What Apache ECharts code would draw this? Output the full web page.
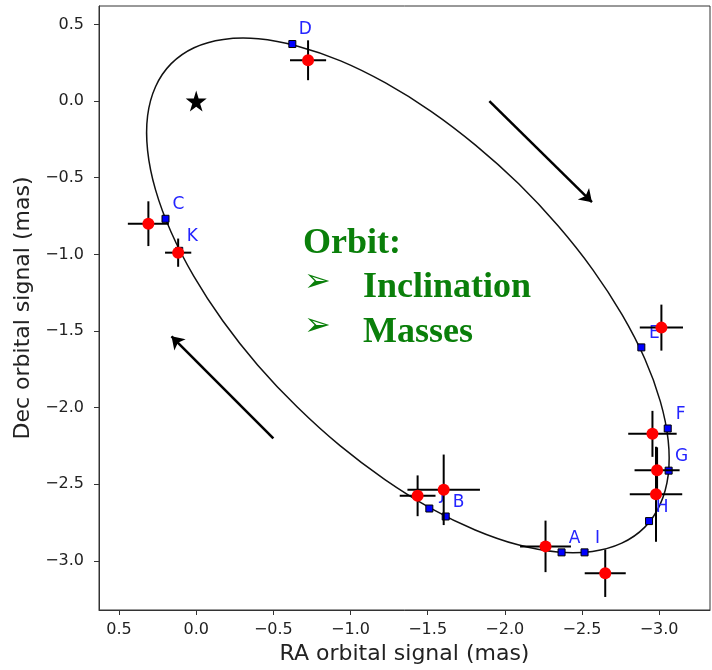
<!DOCTYPE html>
<html>
<head>
<meta charset="utf-8">
<script src="https://cdn.jsdelivr.net/npm/echarts@6/dist/echarts.min.js"></script>
<style>
  html, body { margin: 0; padding: 0; background: #fff; }
  #chart { width: 712px; height: 670px; }
</style>
</head>
<body>
<div id="chart"></div>
<script>
// epoch labels
var labels = ['A', 'B', 'C', 'D', 'E', 'F', 'G', 'H', 'I', 'J', 'K'];
// model positions on the orbit (blue squares)
var modelRA = [-2.368, -1.617, 0.199, -0.623, -2.885, -3.056, -3.062, -2.935, -2.517, -1.511, 0.110];
var modelDec = [-2.944, -2.710, -0.768, 0.372, -1.607, -2.136, -2.411, -2.740, -2.944, -2.658, -0.977];
// measured positions (red points) and their errors
var obsRA = [-2.264, -1.604, 0.310, -0.725, -3.015, -2.957, -2.987, -2.980, -2.651, -1.435, 0.117];
var obsDec = [-2.905, -2.536, -0.800, 0.266, -1.478, -2.171, -2.409, -2.565, -3.080, -2.575, -0.989];
var errRA = [0.165, 0.235, 0.133, 0.117, 0.140, 0.157, 0.146, 0.170, 0.133, 0.116, 0.085];
var errDec = [0.168, 0.230, 0.146, 0.130, 0.150, 0.150, 0.150, 0.310, 0.155, 0.133, 0.092];
var orbitRA = [-2.906, -2.758, -2.568, -2.342, -2.086, -1.808, -1.518, -1.223, -0.932, -0.655,
  -0.399, -0.173, 0.016, 0.163, 0.264, 0.315, 0.315, 0.263, 0.162, 0.014, -0.176, -0.403,
  -0.658, -0.936, -1.227, -1.522, -1.812, -2.090, -2.345, -2.571, -2.760, -2.908, -3.008,
  -3.059, -3.059, -3.007];
var orbitDec = [-2.781, -2.884, -2.938, -2.942, -2.895, -2.798, -2.655, -2.469, -2.248, -1.996,
  -1.723, -1.435, -1.142, -0.854, -0.578, -0.323, -0.096, 0.095, 0.244, 0.348, 0.402, 0.406,
  0.358, 0.262, 0.118, -0.067, -0.289, -0.540, -0.814, -1.101, -1.394, -1.683, -1.959,
  -2.214, -2.440, -2.631];
// direction arrows [fromRA, fromDec, toRA, toDec]
var arrows = [[-1.90, 0.00, -2.565, -0.66], [-0.50, -2.20, 0.16, -1.535]];
var tickValues = [-3.0, -2.5, -2.0, -1.5, -1.0, -0.5, 0.0, 0.5];

var fmt = function (v) {
  return (v < 0 ? '\u2212' : '') + Math.abs(v).toFixed(1);
};

var green = '#0a7f0a';

var axisCommon = {
  type: 'value',
  nameLocation: 'middle',
  nameTextStyle: { fontFamily: 'DejaVu Sans', fontSize: 22, color: '#222' },
  splitLine: { show: false },
  axisLine: { show: true, onZero: false, lineStyle: { color: '#333', width: 1 } },
  axisTick: { show: true, length: 5, customValues: tickValues, lineStyle: { color: '#333' } },
  axisLabel: { customValues: tickValues, formatter: fmt, fontFamily: 'DejaVu Sans', fontSize: 16, color: '#222' }
};

var options = {
  animation: false,
  grid: { left: 99, top: 6, right: 2, bottom: 57, show: true, borderColor: '#333', borderWidth: 1 },
  xAxis: Object.assign({}, axisCommon, {
    name: 'RA orbital signal (mas)',
    nameGap: 33,
    inverse: true,
    min: -3.33,
    max: 0.63,
    axisLabel: Object.assign({}, axisCommon.axisLabel, { margin: 12 })
  }),
  yAxis: Object.assign({}, axisCommon, {
    name: 'Dec orbital signal (mas)',
    nameGap: 64,
    min: -3.32,
    max: 0.62,
    axisLabel: Object.assign({}, axisCommon.axisLabel, { margin: 15 })
  }),
  graphic: [
    { type: 'text', left: 303, top: 226, style: { text: 'Orbit:', fill: green, font: 'bold 36px "Liberation Serif"' } },
    { type: 'text', left: 304, top: 267, style: { text: '\u27A2', fill: green, font: '32px "DejaVu Sans"' } },
    { type: 'text', left: 363, top: 270, style: { text: 'Inclination', fill: green, font: 'bold 36px "Liberation Serif"' } },
    { type: 'text', left: 304, top: 311, style: { text: '\u27A2', fill: green, font: '32px "DejaVu Sans"' } },
    { type: 'text', left: 363, top: 315, style: { text: 'Masses', fill: green, font: 'bold 36px "Liberation Serif"' } }
  ],
  series: [
    {
      name: 'orbit',
      type: 'custom',
      data: [[orbitRA[0], orbitDec[0]]],
      renderItem: function (params, api) {
        var pts = orbitRA.map(function (x, i) { return api.coord([x, orbitDec[i]]); });
        return {
          type: 'polygon',
          shape: { points: pts, smooth: 0.35 },
          style: { fill: 'none', stroke: '#111', lineWidth: 1.5 }
        };
      },
      z: 1
    },
    {
      name: 'arrows',
      type: 'lines',
      coordinateSystem: 'cartesian2d',
      symbol: ['none', 'arrow'],
      symbolSize: [9, 12],
      lineStyle: { color: '#000', width: 2.5, opacity: 1 },
      data: arrows.map(function (a) { return { coords: [[a[0], a[1]], [a[2], a[3]]] }; }),
      z: 2
    },
    {
      name: 'model',
      type: 'scatter',
      symbol: 'rect',
      symbolSize: 7,
      data: modelRA.map(function (x, i) { return [x, modelDec[i]]; }),
      itemStyle: { color: '#0000ff', borderColor: '#000', borderWidth: 1, opacity: 1 },
      label: {
        show: true,
        position: 'inside',
        offset: [13, -14],
        color: '#2424ff',
        fontFamily: 'DejaVu Sans',
        fontSize: 17,
        formatter: function (p) { return labels[p.dataIndex]; }
      },
      z: 3
    },
    {
      name: 'errors',
      type: 'custom',
      data: obsRA.map(function (x, i) { return [x, obsDec[i], errRA[i], errDec[i]]; }),
      renderItem: function (params, api) {
        var x = api.value(0), y = api.value(1), ex = api.value(2), ey = api.value(3);
        var l = api.coord([x - ex, y]), r = api.coord([x + ex, y]);
        var t = api.coord([x, y + ey]), b = api.coord([x, y - ey]);
        var st = { stroke: '#000', lineWidth: 2 };
        return {
          type: 'group',
          children: [
            { type: 'line', shape: { x1: l[0], y1: l[1], x2: r[0], y2: r[1] }, style: st },
            { type: 'line', shape: { x1: t[0], y1: t[1], x2: b[0], y2: b[1] }, style: st }
          ]
        };
      },
      z: 4
    },
    {
      name: 'observed',
      type: 'scatter',
      symbolSize: 12,
      data: obsRA.map(function (x, i) { return [x, obsDec[i]]; }),
      itemStyle: { color: '#ff0000', opacity: 1 },
      z: 5
    },
    {
      name: 'star',
      type: 'scatter',
      symbol: 'path://M50,0 L61,35 L98,35 L68,57 L79,91 L50,70 L21,91 L32,57 L2,35 L39,35 Z',
      symbolSize: 21,
      data: [[0, 0]],
      itemStyle: { color: '#000', opacity: 1 },
      z: 5
    }
  ]
};

var chart = echarts.init(document.getElementById('chart'));
chart.setOption(options, true);
</script>
</body>
</html>
